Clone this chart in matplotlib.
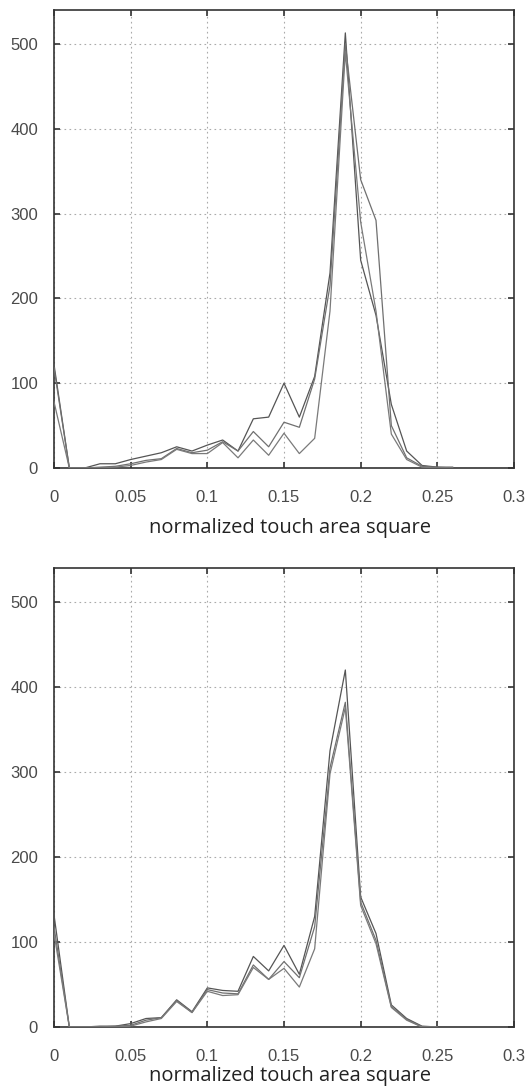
import matplotlib
matplotlib.use("Agg")
import matplotlib.pyplot as plt

# bin centres (normalized touch area square)
x_top = [0.00, 0.01, 0.02, 0.03, 0.04, 0.05, 0.06, 0.07, 0.08, 0.09, 0.10,
         0.11, 0.12, 0.13, 0.14, 0.15, 0.16, 0.17, 0.18, 0.19, 0.20, 0.21,
         0.22, 0.23, 0.24, 0.25, 0.26]
top_a = [122, 0, 0, 5, 5, 10, 14, 18, 25, 20, 27, 33, 20, 58, 60, 100, 60, 108,
         230, 513, 245, 180, 75, 20, 3, 1, 1]
top_b = [118, 0, 0, 1, 2, 5, 9, 11, 23, 18, 21, 31, 20, 43, 25, 54, 48, 105,
         215, 500, 340, 292, 50, 12, 2, 1, 0]
top_c = [78, 0, 0, 0, 1, 3, 7, 10, 22, 17, 17, 30, 12, 33, 15, 41, 17, 35,
         185, 490, 290, 185, 40, 10, 1, 0, 0]

x_bot = [0.00, 0.01, 0.02, 0.03, 0.04, 0.05, 0.06, 0.07, 0.08, 0.09, 0.10,
         0.11, 0.12, 0.13, 0.14, 0.15, 0.16, 0.17, 0.18, 0.19, 0.20, 0.21,
         0.22, 0.23, 0.24, 0.25]
bot_a = [132, 0, 0, 1, 1, 4, 10, 11, 32, 18, 46, 43, 42, 83, 66, 96, 62, 130,
         325, 420, 153, 110, 26, 10, 1, 0]
bot_b = [118, 0, 0, 0, 1, 2, 8, 11, 31, 17, 44, 40, 39, 73, 56, 77, 58, 118,
         305, 382, 147, 102, 24, 9, 0, 0]
bot_c = [110, 0, 0, 0, 0, 1, 6, 10, 30, 17, 42, 37, 38, 70, 56, 69, 47, 92,
         298, 376, 143, 98, 23, 8, 0, 0]

x_ticks = [0, 0.05, 0.1, 0.15, 0.2, 0.25, 0.3]
x_ticklabels = ["0", "0.05", "0.1", "0.15", "0.2", "0.25", "0.3"]
y_ticks = [0, 100, 200, 300, 400, 500]
xlabel = "normalized touch area square"

line_colors = ["#555555", "#707070", "#7a7a7a"]

fig = plt.figure(figsize=(5.28, 10.88), dpi=100)
fig.patch.set_facecolor("white")

ax_top = fig.add_axes([54 / 528, 1 - 468 / 1088, 460 / 528, 458 / 1088])
ax_bot = fig.add_axes([54 / 528, 1 - 1027 / 1088, 460 / 528, 459 / 1088])

panels = [
    (ax_top, x_top, [top_a, top_b, top_c], -50 / 458),
    (ax_bot, x_bot, [bot_a, bot_b, bot_c], -39 / 459),
]

for ax, xs, series, label_y in panels:
    for ys, c in zip(series, line_colors):
        ax.plot(xs, ys, color=c, linewidth=0.9, zorder=3)
    ax.set_xlim(0, 0.3)
    ax.set_ylim(0, 540)
    ax.set_xticks(x_ticks)
    ax.set_xticklabels(x_ticklabels)
    ax.set_yticks(y_ticks)
    ax.grid(True, color="#aaaaaa", linestyle=(0, (1.5, 3)), linewidth=0.8)
    ax.tick_params(direction="in", length=4, width=1.2, color="#333333",
                   top=True, right=True, labelsize=12, labelcolor="#4a4a4a")
    ax.tick_params(axis="x", pad=15.5)
    ax.tick_params(axis="y", pad=11.5)
    for lab in ax.get_xticklabels() + ax.get_yticklabels():
        lab.set_family("Liberation Sans")
    for sp in ax.spines.values():
        sp.set_color("#333333")
        sp.set_linewidth(1.2)
    ax.set_xlabel(xlabel, fontsize=14.5, color="#222222", family="Open Sans",
                  va="top")
    ax.xaxis.set_label_coords(0.513, label_y)
    ax.set_facecolor("white")

fig.savefig("out.png", dpi=100)
